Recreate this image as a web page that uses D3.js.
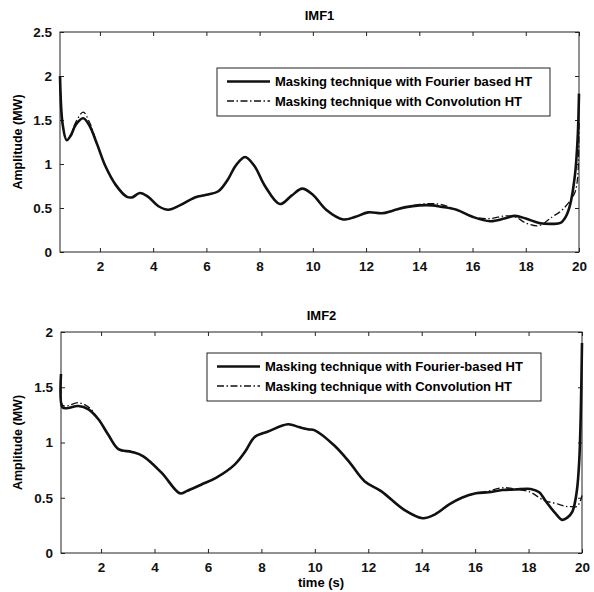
<!DOCTYPE html>
<html><head><meta charset="utf-8">
<script src="https://cdn.jsdelivr.net/npm/d3@7"></script>
<style>body{margin:0;background:#fff}svg{display:block}text{font-family:"Liberation Sans",Arial,sans-serif}</style>
</head><body>
<svg id="c" width="594" height="592"></svg>
<script>
// ---- data ----
const xTicks = [2,4,6,8,10,12,14,16,18,20];
const imf1YTicks = [0,0.5,1,1.5,2,2.5];
const imf2YTicks = [0,0.5,1,1.5,2];
const imf1Time = [0.5,0.6,0.75,0.9,1.1,1.37,1.6,1.9,2.2,2.6,3.0,3.2,3.5,3.8,4.2,4.57,5.0,5.57,6.0,6.45,6.8,7.1,7.45,7.8,8.2,8.76,9.2,9.6,10.0,10.5,11.14,11.6,12.08,12.6,13.0,13.5,14.0,14.5,14.8,15.4,16.0,16.66,17.2,17.6,18.0,18.5,19.0,19.3,19.5,19.66,19.85,19.95,20.0];
const imf1Fourier = [2.0,1.45,1.27,1.32,1.45,1.52,1.44,1.22,0.98,0.76,0.63,0.62,0.67,0.63,0.52,0.48,0.53,0.62,0.65,0.69,0.82,0.98,1.08,0.98,0.75,0.545,0.64,0.72,0.65,0.48,0.37,0.40,0.45,0.44,0.47,0.51,0.53,0.53,0.515,0.48,0.40,0.35,0.38,0.41,0.38,0.33,0.32,0.33,0.40,0.53,0.88,1.3,1.8];
const imf1Conv = [2.0,1.45,1.27,1.33,1.48,1.59,1.48,1.22,0.98,0.76,0.63,0.62,0.67,0.63,0.52,0.48,0.53,0.62,0.65,0.69,0.82,0.98,1.08,0.98,0.75,0.545,0.64,0.72,0.65,0.48,0.37,0.40,0.45,0.44,0.47,0.51,0.54,0.55,0.54,0.48,0.40,0.38,0.41,0.40,0.33,0.30,0.40,0.46,0.52,0.58,0.68,0.85,1.5];
const imf2Time = [0.5,0.55,0.7,1.15,1.53,1.9,2.27,2.65,3.15,3.58,4.27,4.95,5.2,5.76,6.3,7.0,7.4,7.75,8.25,9.0,9.4,9.74,10.0,10.74,11.3,11.86,12.48,13.35,14.04,14.5,15.03,15.5,16.03,16.5,17.02,17.5,18.08,18.4,18.64,19.0,19.26,19.45,19.64,19.8,19.9,20.0];
const imf2Fourier = [1.62,1.32,1.31,1.33,1.30,1.21,1.07,0.94,0.915,0.875,0.725,0.54,0.56,0.62,0.68,0.80,0.92,1.05,1.10,1.165,1.14,1.12,1.11,0.97,0.82,0.65,0.56,0.39,0.315,0.35,0.44,0.50,0.54,0.55,0.57,0.575,0.58,0.55,0.47,0.36,0.30,0.32,0.375,0.55,0.85,1.9];
const imf2Conv = [1.62,1.34,1.33,1.36,1.32,1.21,1.07,0.94,0.915,0.875,0.725,0.54,0.56,0.62,0.68,0.80,0.92,1.05,1.10,1.165,1.14,1.12,1.11,0.97,0.82,0.65,0.56,0.39,0.315,0.35,0.44,0.50,0.54,0.56,0.59,0.58,0.55,0.50,0.47,0.45,0.43,0.42,0.42,0.42,0.45,0.52];
const legend1 = ["Masking technique with Fourier based HT","Masking technique with Convolution HT"];
const legend2 = ["Masking technique with Fourier-based HT","Masking technique with Convolution HT"];

const svg = d3.select("#c");
const DASH = "7,2.5,1.5,2.5";

function panel(o){
  const x = d3.scaleLinear().domain([0.5,20]).range([o.l,o.r]);
  const y = d3.scaleLinear().domain([0,o.ymax]).range([o.b,o.t]);
  const g = svg.append("g");
  g.append("rect").attr("x",o.l).attr("y",o.t).attr("width",o.r-o.l).attr("height",o.b-o.t)
    .attr("fill","none").attr("stroke","#222").attr("stroke-width",1);
  const ax = g.append("g").attr("transform",`translate(0,${o.b})`)
    .call(d3.axisBottom(x).tickValues(xTicks).tickSize(-4).tickPadding(9).tickFormat(d3.format("d")));
  const axT = g.append("g").attr("transform",`translate(0,${o.t})`)
    .call(d3.axisTop(x).tickValues(xTicks).tickSize(-4).tickFormat(""));
  const ay = g.append("g").attr("transform",`translate(${o.l},0)`)
    .call(d3.axisLeft(y).tickValues(o.yTicks).tickSize(-4).tickPadding(8).tickFormat(d=>String(d)));
  const ayR = g.append("g").attr("transform",`translate(${o.r},0)`)
    .call(d3.axisRight(y).tickValues(o.yTicks).tickSize(-4).tickFormat(""));
  [ax,axT,ay,ayR].forEach(a=>{
    a.select(".domain").remove();
    a.selectAll(".tick line").attr("stroke","#222");
    a.selectAll("text").attr("font-size",13.5).attr("font-weight","bold").attr("fill","#111");
  });
  const line = (tArr,vArr)=>d3.line().x((d,i)=>x(tArr[i])).y(d=>y(d)).curve(d3.curveCatmullRom.alpha(0.5))(vArr);
  g.append("path").attr("d",line(o.time,o.conv)).attr("fill","none").attr("stroke","#111")
    .attr("stroke-width",1.3).attr("stroke-dasharray",DASH);
  g.append("path").attr("d",line(o.time,o.four)).attr("fill","none").attr("stroke","#111")
    .attr("stroke-width",2.6).attr("stroke-linejoin","round");
  g.append("text").attr("x",(o.l+o.r)/2).attr("y",o.t-12).attr("text-anchor","middle")
    .attr("font-size",13).attr("font-weight","bold").text(o.title);
  g.append("text").attr("transform",`translate(22,${(o.t+o.b)/2}) rotate(-90)`).attr("text-anchor","middle")
    .attr("font-size",12.5).attr("font-weight","bold").text("Amplitude (MW)");
  const L = o.leg;
  g.append("rect").attr("x",L.x).attr("y",L.y).attr("width",L.w).attr("height",L.h)
    .attr("fill","#fff").attr("stroke","#222").attr("stroke-width",1);
  o.legText.forEach((s,i)=>{
    const yy = L.y + 13.5 + i*19.5;
    g.append("line").attr("x1",L.x+10).attr("x2",L.x+53).attr("y1",yy).attr("y2",yy)
      .attr("stroke","#111").attr("stroke-width",i===0?2.6:1.3).attr("stroke-dasharray",i===0?null:DASH);
    g.append("text").attr("x",L.x+58).attr("y",yy+4.8).attr("font-size",13).attr("font-weight","bold").text(s);
  });
  return {x,y};
}

panel({l:60,r:579,t:32,b:252,ymax:2.5,yTicks:imf1YTicks,time:imf1Time,four:imf1Fourier,conv:imf1Conv,
  title:"IMF1",leg:{x:217,y:68,w:333,h:48},legText:legend1});
panel({l:61,r:582,t:332,b:553,ymax:2,yTicks:imf2YTicks,time:imf2Time,four:imf2Fourier,conv:imf2Conv,
  title:"IMF2",leg:{x:207,y:353,w:334,h:48},legText:legend2});
svg.append("text").attr("x",321).attr("y",587).attr("text-anchor","middle")
  .attr("font-size",13).attr("font-weight","bold").text("time (s)");
</script>
</body></html>
